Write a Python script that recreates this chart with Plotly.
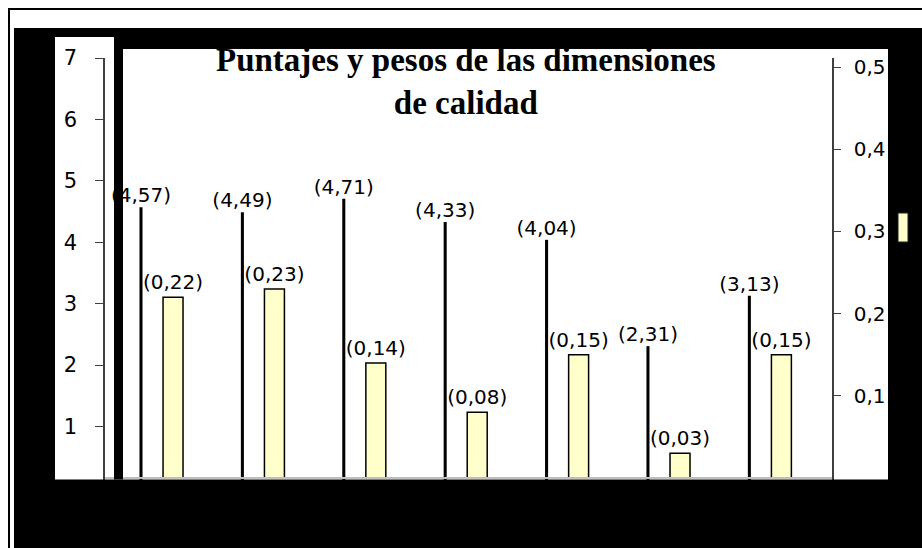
import plotly.graph_objects as go

# ---- data ----
categories = ["Dim. 1", "Dim. 2", "Dim. 3", "Dim. 4", "Dim. 5", "Dim. 6", "Dim. 7"]
puntajes = [4.57, 4.49, 4.71, 4.33, 4.04, 2.31, 3.13]
pesos = [0.22, 0.23, 0.14, 0.08, 0.15, 0.03, 0.15]
left_ticks = [1, 2, 3, 4, 5, 6, 7]
right_ticks = [0.1, 0.2, 0.3, 0.4, 0.5]

def fmt(v, d):
    return "(" + f"{v:.{d}f}".replace(".", ",") + ")"

W, H = 922, 548
L, R, T, B = 105, 90, 58, 60
PW, PH = W - L - R, H - T - B

def px(x):
    return (x - L) / PW

def py(y):
    return (H - B - y) / PH

label_font = dict(family="DejaVu Sans", size=20, color="black")

fig = go.Figure()
fig.add_trace(go.Bar(
    x=categories, y=puntajes, name="Puntaje",
    width=0.03, offset=-0.254,
    marker=dict(color="black", line=dict(width=0)),
    text=[fmt(v, 2) for v in puntajes], textposition="outside",
    constraintext="none", cliponaxis=False,
    textfont=label_font,
    yaxis="y",
))
fig.add_trace(go.Bar(
    x=categories, y=pesos, name="Peso",
    width=0.197, offset=-0.0215,
    marker=dict(color="#FFFFCC", line=dict(color="black", width=1.5)),
    text=[fmt(v, 2) for v in pesos], textposition="outside",
    constraintext="none", cliponaxis=False,
    textfont=label_font,
    yaxis="y2",
))

black = dict(type="rect", xref="paper", yref="paper", layer="above",
             fillcolor="black", line=dict(width=0))
regions = [
    (14, 28, 930, 37),
    (114, 37, 930, 49),
    (14, 37, 55, 560),
    (114, 49, 123, 479.5),
    (888, 49, 930, 560),
    (55, 479.5, 888, 560),
]
shapes = []
for x0, y0, x1, y1 in regions:
    s = dict(black)
    s.update(x0=px(x0), x1=px(x1), y0=py(y0), y1=py(y1))
    shapes.append(s)
# outer frame line
shapes.append(dict(type="rect", xref="paper", yref="paper", layer="above",
                   x0=px(9), x1=px(940), y0=py(9), y1=py(570),
                   line=dict(color="black", width=2), fillcolor="rgba(0,0,0,0)"))
# cropped legend swatch
shapes.append(dict(type="rect", xref="paper", yref="paper", layer="above",
                   x0=px(898), x1=px(908), y0=py(213), y1=py(242),
                   fillcolor="#FFFFCC", line=dict(color="#222222", width=1)))

left_tick_font = dict(family="DejaVu Sans", size=21, color="black")
right_tick_font = dict(family="DejaVu Sans", size=20, color="black")

fig.update_layout(
    width=W, height=H,
    margin=dict(l=L, r=R, t=T, b=B, pad=0),
    paper_bgcolor="white", plot_bgcolor="white",
    showlegend=False, barmode="overlay",
    xaxis=dict(type="category", range=[-0.594, 6.576], showticklabels=False,
               ticks="", showgrid=False, zeroline=False,
               showline=True, linecolor="#BFBFBF", linewidth=2,
               anchor="free", position=py(478)),
    yaxis=dict(range=[0, 7], tickvals=left_ticks, ticktext=[str(v) for v in left_ticks],
               showgrid=False, zeroline=False, showline=True,
               linecolor="#404040", linewidth=1.5, ticks="outside", ticklen=8,
               tickcolor="#404040", ticklabelstandoff=14,
               tickfont=left_tick_font),
    yaxis2=dict(range=[-0.0122, 0.511], overlaying="y", side="right", anchor="x",
                tickvals=right_ticks,
                ticktext=[f"{v:.1f}".replace(".", ",") for v in right_ticks],
                showgrid=False, zeroline=False, showline=True,
                linecolor="#404040", linewidth=1.5, ticks="outside", ticklen=7,
                tickcolor="#404040", ticklabelstandoff=9,
                tickfont=right_tick_font),
    shapes=shapes,
    annotations=[dict(
        text="Puntajes y pesos de las dimensiones<br>de calidad",
        xref="paper", yref="paper", x=px(466), y=py(81),
        xanchor="center", yanchor="middle", showarrow=False,
        font=dict(family="Liberation Serif", size=33, color="black", weight="bold"),
    )],
)

fig.write_html("out.html", config={"displayModeBar": False},
               post_script="document.body.style.margin='0';document.body.style.overflow='hidden';")
